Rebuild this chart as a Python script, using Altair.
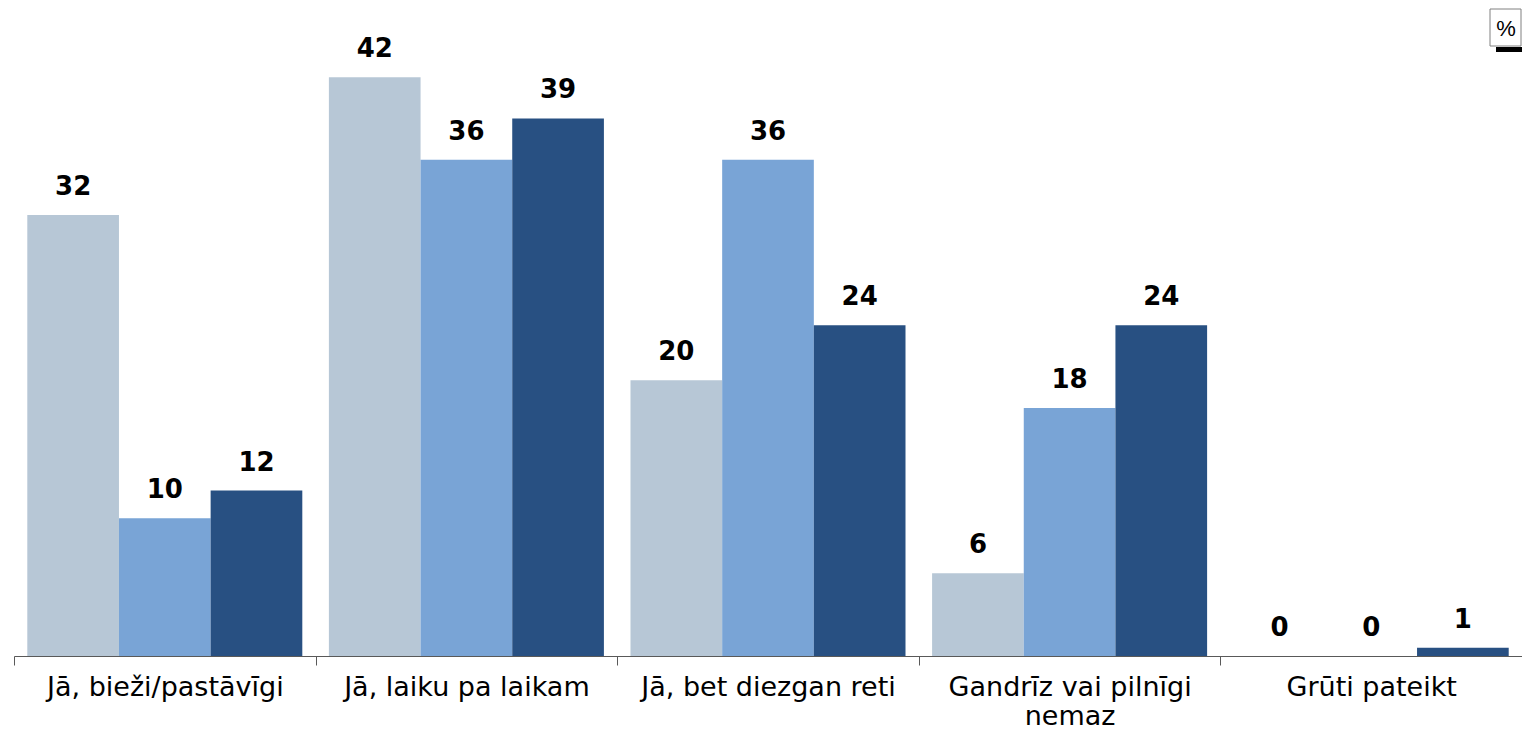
import altair as alt
import pandas as pd

categories = ["Jā, bieži/pastāvīgi", "Jā, laiku pa laikam", "Jā, bet diezgan reti",
              "Gandrīz vai pilnīgi nemaz", "Grūti pateikt"]
series = ["S1", "S2", "S3"]
values_s1 = [32, 42, 20, 6, 0]
values_s2 = [10, 36, 36, 18, 0]
values_s3 = [12, 39, 24, 24, 0.6]
colors = ["#B7C7D6", "#79A4D6", "#285082"]

rows = []
for i, c in enumerate(categories):
    for s, vals in zip(series, [values_s1, values_s2, values_s3]):
        rows.append({"cat": c, "series": s, "value": vals[i]})
df = pd.DataFrame(rows)

FONT = "DejaVu Sans"

x_enc = alt.X("cat:N", sort=categories, title=None,
              scale=alt.Scale(paddingInner=0, paddingOuter=0),
              axis=alt.Axis(labelAngle=0, tickBand="extent", tickSize=9,
                            labelFont=FONT, labelFontSize=27, labelLimit=0,
                            labelColor="#000000", labelPadding=9,
                            labelLineHeight=29, labelBaseline="top",
                            domainColor="#595959", tickColor="#595959",
                            labelExpr="datum.value == 'Gandrīz vai pilnīgi nemaz' ? ['Gandrīz vai pilnīgi', 'nemaz'] : datum.value"))
xo_enc = alt.XOffset("series:N", sort=series,
                     scale=alt.Scale(paddingInner=0, paddingOuter=0.145))
y_enc = alt.Y("value:Q", scale=alt.Scale(domain=[0, 46], nice=False), axis=None)

base = alt.Chart(df)
bars = base.mark_bar().encode(
    x=x_enc, xOffset=xo_enc, y=y_enc,
    color=alt.Color("series:N", sort=series,
                    scale=alt.Scale(domain=series, range=colors), legend=None),
)
labels = base.mark_text(font=FONT, fontWeight="bold", fontSize=26,
                        baseline="alphabetic", dy=-20, color="#000000").encode(
    x=x_enc, xOffset=xo_enc, y=y_enc,
    text=alt.Text("value:Q", format=".0f"),
)

pct_shadow = alt.Chart(pd.DataFrame({"k": [0]})).mark_rect(color="#000000").encode(
    x=alt.value(1482), x2=alt.value(1508), y=alt.value(25), y2=alt.value(30))
pct_box = alt.Chart(pd.DataFrame({"k": [0]})).mark_rect(
    fill="#ffffff", stroke="#808080", strokeWidth=1).encode(
    x=alt.value(1476), x2=alt.value(1507), y=alt.value(-13), y2=alt.value(24))
pct_text = alt.Chart(pd.DataFrame({"t": ["%"]})).mark_text(
    font="Liberation Sans", fontSize=22, baseline="middle", color="#000000").encode(
    x=alt.value(1492), y=alt.value(7), text="t:N")

chart = alt.layer(bars, labels, pct_shadow, pct_box, pct_text).properties(
    width=1508, height=634,
    autosize=alt.AutoSizeParams(type="none"),
    padding={"left": 6, "top": 14, "right": 0, "bottom": 76},
).configure_view(stroke=None)

chart.save("out.html", embed_options={"renderer": "svg", "actions": False})
